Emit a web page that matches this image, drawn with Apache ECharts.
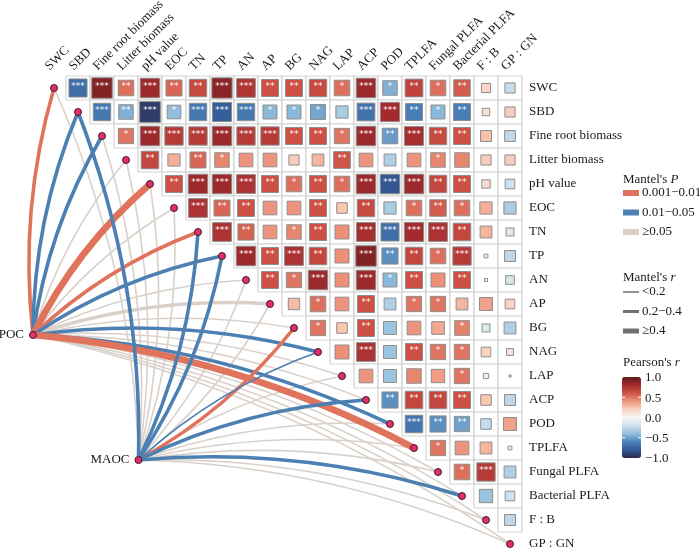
<!DOCTYPE html>
<html><head><meta charset="utf-8">
<script src="https://cdn.jsdelivr.net/npm/echarts@6/dist/echarts.min.js"></script>
<style>html,body{margin:0;padding:0;background:#fff}#c{width:700px;height:548px}</style>
</head><body><div id="c"></div>
<script>
// ---------------- data ----------------
const vars = ['SWC','SBD','Fine root biomass','Litter biomass','pH value','EOC','TN','TP','AN','AP','BG','NAG','LAP','ACP','POD','TPLFA','Fungal PLFA','Bacterial PLFA','F : B','GP : GN'];

// Pearson's r, upper triangle: row variable vs. each following column variable
const r_SWC  = [-0.70,0.90,0.52,0.82,0.55,0.65,0.88,0.75,0.62,0.62,0.65,0.52,0.82,-0.45,0.68,0.52,0.58,0.18,-0.22];
const r_SBD  = [-0.65,-0.45,-0.92,-0.40,-0.65,-0.78,-0.65,-0.42,-0.42,-0.48,-0.32,-0.68,0.80,-0.62,-0.42,-0.62,0.12,0.22];
const r_FRB  = [0.50,0.82,0.72,0.72,0.82,0.72,0.72,0.62,0.62,0.50,0.82,-0.52,0.78,0.65,0.62,0.26,-0.25];
const r_LB   = [0.66,0.32,0.55,0.45,0.40,0.40,0.22,0.30,0.60,0.40,-0.30,0.40,0.45,0.45,0.22,0.22];
const r_pH   = [0.62,0.82,0.82,0.76,0.62,0.52,0.62,0.52,0.82,-0.82,0.82,0.66,0.62,0.15,-0.20];
const r_EOC  = [0.76,0.55,0.62,0.40,0.40,0.62,0.24,0.65,-0.32,0.52,0.58,0.52,0.32,-0.32];
const r_TN   = [0.76,0.56,0.40,0.45,0.62,0.42,0.78,-0.70,0.80,0.76,0.66,0.30,-0.14];
const r_TP   = [0.82,0.62,0.76,0.66,0.42,0.90,-0.56,0.66,0.52,0.72,0.03,-0.26];
const r_AN   = [0.62,0.50,0.82,0.42,0.82,-0.42,0.62,0.42,0.62,0.02,-0.16];
const r_AP   = [0.28,0.52,0.40,0.62,-0.30,0.50,0.50,0.30,0.36,0.20];
const r_BG   = [0.50,0.24,0.62,-0.36,0.40,0.34,0.46,-0.14,-0.30];
const r_NAG  = [0.42,0.76,-0.36,0.62,0.50,0.50,0.20,0.10];
const r_LAP  = [0.40,-0.36,0.45,0.38,0.50,0.06,0.01];
const r_ACP  = [-0.56,0.66,0.66,0.62,0.24,-0.26];
const r_POD  = [-0.66,-0.56,-0.50,-0.24,0.36];
const r_TPL  = [0.50,0.40,0.30,0.03];
const r_FUN  = [0.52,0.72,-0.30];
const r_BAC  = [-0.38,-0.20];
const r_FB   = [-0.26];

// significance stars (count of *)
const s_SWC  = [3,3,2,3,2,2,3,3,2,2,2,1,3,1,2,1,2,0,0];
const s_SBD  = [3,2,3,1,3,3,3,1,1,1,0,3,3,2,1,2,0,0];
const s_FRB  = [1,3,3,3,3,3,3,2,2,1,3,2,3,2,2,0,0];
const s_LB   = [2,0,2,1,0,0,0,0,2,0,0,0,1,0,0,0];
const s_pH   = [2,3,3,3,2,1,2,1,3,3,3,2,2,0,0];
const s_EOC  = [3,2,2,0,0,2,0,2,0,1,2,1,0,0];
const s_TN   = [3,2,0,1,2,0,3,3,3,3,2,0,0];
const s_TP   = [3,2,3,2,0,3,2,2,1,3,0,0];
const s_AN   = [2,1,3,0,3,1,2,0,2,0,0];
const s_AP   = [0,1,0,2,0,1,1,0,0,0];
const s_BG   = [1,0,2,0,0,0,1,0,0];
const s_NAG  = [0,3,0,2,1,1,0,0];
const s_LAP  = [0,0,0,0,1,0,0];
const s_ACP  = [2,2,2,2,0,0];
const s_POD  = [3,2,2,0,0];
const s_TPL  = [1,0,0,0];
const s_FUN  = [1,3,0];
const s_BAC  = [0,0];
const s_FB   = [0];

// Mantel test links: P class (a: 0.001-0.01, b: 0.01-0.05, c: >=0.05), r class (1: <0.2, 2: 0.2-0.4, 3: >=0.4)
const pocP  = ['a','b','b','c','a','c','a','b','c','c','c','b','c','c','b','a','c','c','c','c'];
const pocR  = [2,2,2,1,3,1,2,2,1,2,1,2,1,1,2,3,1,1,1,1];
const maocP = ['c','b','c','c','c','c','b','b','c','c','a','b','c','b','c','c','c','b','c','c'];
const maocR = [1,2,1,1,1,1,2,2,1,1,2,1,1,2,1,1,1,2,1,1];

const nodeNames = ['POC','MAOC'];
const nodeX = [-0.875, 3.52];
const nodeY = [10.29, 15.5];

const pLevels = ['0.001\u22120.01','0.01\u22120.05','\u22650.05'];
const rLevels = ['<0.2','0.2\u22120.4','\u22650.4'];
const cbTicks = [1.0, 0.5, 0.0, -0.5, -1.0];

// ---------------- build ----------------
const FF = '"Liberation Serif","Times New Roman",serif';
const rRows = [r_SWC,r_SBD,r_FRB,r_LB,r_pH,r_EOC,r_TN,r_TP,r_AN,r_AP,r_BG,r_NAG,r_LAP,r_ACP,r_POD,r_TPL,r_FUN,r_BAC,r_FB];
const sRows = [s_SWC,s_SBD,s_FRB,s_LB,s_pH,s_EOC,s_TN,s_TP,s_AN,s_AP,s_BG,s_NAG,s_LAP,s_ACP,s_POD,s_TPL,s_FUN,s_BAC,s_FB];
const cells = [];
rRows.forEach((row, i) => row.forEach((r, k) => cells.push([i + 1 + k, i, r, sRows[i][k]])));

const pColor = {a:'#E0735C', b:'#4C7FB2', c:'#D9D1C9'};
const rWidth = {1:1.6, 2:3.6, 3:6.8};
const links = [];
[[pocP,pocR],[maocP,maocR]].forEach(([P,R], n) => {
  P.forEach((p, i) => links.push({
    p,
    coords: [[nodeX[n], nodeY[n]], [i, i]],
    lineStyle: {color: pColor[p], width: rWidth[R[i]], curveness: (n === 1 && i <= 10) ? -0.1 : 0.1, opacity: 1}
  }));
});
const grayLinks = links.filter(l => l.p === 'c');
const colLinks = links.filter(l => l.p !== 'c');

const dots = vars.map((v, i) => [i, i]);
nodeNames.forEach((nm, n) => dots.push({value:[nodeX[n], nodeY[n]], label:{show:true, formatter:nm, position:'left', distance:5, fontSize:13, fontFamily:FF, color:'#1a1a1a'}}));

const cbColors = ['#2B2649','#345A98','#4A82B8','#93BEDA','#CFE2EE','#F5F5F5','#FAD3C2','#EE967C','#D05446','#A52A2D','#5E1B1E'];

// legend graphics
const G = [];
const LX = 623;
function T(x, y, text, rich) {
  const st = {text, fontSize:13, fontFamily:FF, fill:'#1a1a1a', align:'left', verticalAlign:'middle'};
  if (rich) st.rich = {i:{fontStyle:'italic', fontSize:13, fontFamily:FF, fill:'#1a1a1a'}};
  G.push({type:'text', x, y, style:st, z:10});
}
T(LX, 180, "Mantel's {i|P}", true);
['a','b','c'].forEach((k, q) => {
  const y = 193 + q * 19.5;
  G.push({type:'rect', shape:{x:LX, y:y-3, width:16, height:6}, style:{fill:pColor[k]}, z:10});
  T(LX + 19, y, pLevels[q]);
});
T(LX, 278, "Mantel's {i|r}", true);
[1.5, 3, 5].forEach((w, q) => {
  const y = 292 + q * 19.5;
  G.push({type:'rect', shape:{x:LX, y:y-w/2, width:16, height:w}, style:{fill:'#707070'}, z:10});
  T(LX + 19, y, rLevels[q]);
});
T(LX, 363, "Pearson's {i|r}", true);
const CB = {x:622, y:377, w:19, h:81};
cbTicks.forEach(v => {
  const y = CB.y + (1 - v) / 2 * CB.h;
  T(CB.x + CB.w + 4, y + 1, v.toFixed(1).replace('-', '\u2212'));
  if (Math.abs(v) < 1) {
    G.push({type:'line', shape:{x1:CB.x, y1:y, x2:CB.x+3, y2:y}, style:{stroke:'#fff', lineWidth:1}, z:20});
    G.push({type:'line', shape:{x1:CB.x+CB.w-3, y1:y, x2:CB.x+CB.w, y2:y}, style:{stroke:'#fff', lineWidth:1}, z:20});
  }
});

const chart = echarts.init(document.getElementById('c'), null, {renderer:'canvas'});
chart.setOption({
  backgroundColor:'#fff',
  animation:false,
  grid:{left:42, top:76, width:480, height:480, outerBoundsMode:'none', containLabel:false},
  xAxis:{type:'value', min:-0.5, max:19.5, show:false},
  yAxis:{type:'value', min:-0.5, max:19.5, inverse:true, show:false},
  visualMap:{type:'continuous', min:-1, max:1, dimension:2, seriesIndex:2, calculable:false, hoverLink:false,
    inRange:{color:cbColors}, orient:'vertical', left:CB.x, top:CB.y, itemWidth:CB.w, itemHeight:CB.h, padding:0, text:null, showLabel:false},
  graphic:{elements:G},
  series:[
    {type:'lines', coordinateSystem:'cartesian2d', polyline:false, clip:false, silent:true, z:1, data:grayLinks},
    {type:'lines', coordinateSystem:'cartesian2d', polyline:false, clip:false, silent:true, z:1, data:colLinks},
    {type:'custom', coordinateSystem:'cartesian2d', clip:false, z:2, data:cells,
      renderItem(params, api){
        const j = api.value(0), i = api.value(1), r = api.value(2), s = api.value(3);
        const c = api.coord([j, i]);
        const sz = api.size([1, 1]);
        const w = sz[0], h = sz[1];
        const side = Math.sqrt(Math.abs(r)) * w * 0.9;
        const ch = [
          {type:'rect', shape:{x:c[0]-w/2, y:c[1]-h/2, width:w, height:h}, style:{fill:'#fff', stroke:'#D3D3D3', lineWidth:1.2}},
          {type:'rect', shape:{x:c[0]-side/2, y:c[1]-side/2, width:side, height:side}, style:{fill:api.visual('color'), stroke:'#8E8E8E', lineWidth:1}}
        ];
        if (s > 0) ch.push({type:'text', x:c[0], y:c[1]-1, style:{text:'*'.repeat(s), fill:'#fff', fontSize:9, fontFamily:'"DejaVu Sans",sans-serif', align:'center', verticalAlign:'middle'}});
        return {type:'group', children:ch};
      }},
    {type:'scatter', clip:false, z:4, symbolSize:7, silent:true,
      itemStyle:{color:'#E3306C', borderColor:'#3A1C26', borderWidth:1, opacity:1}, data:dots},
    {type:'custom', coordinateSystem:'cartesian2d', clip:false, z:5, silent:true, data:dots.slice(0, vars.length),
      renderItem(params, api){
        const i = api.value(0);
        const top = api.coord([i, -0.5]);
        const right = api.coord([19.5, i]);
        return {type:'group', children:[
          {type:'text', x:right[0]+7, y:right[1], style:{text:vars[i], fontSize:13, fontFamily:FF, fill:'#1a1a1a', align:'left', verticalAlign:'middle'}},
          {type:'text', x:top[0]-2, y:top[1]-3, rotation:Math.PI/4, style:{text:vars[i], fontSize:13, fontFamily:FF, fill:'#1a1a1a', align:'left', verticalAlign:'bottom'}}
        ]};
      }}
  ]
});
</script></body></html>
